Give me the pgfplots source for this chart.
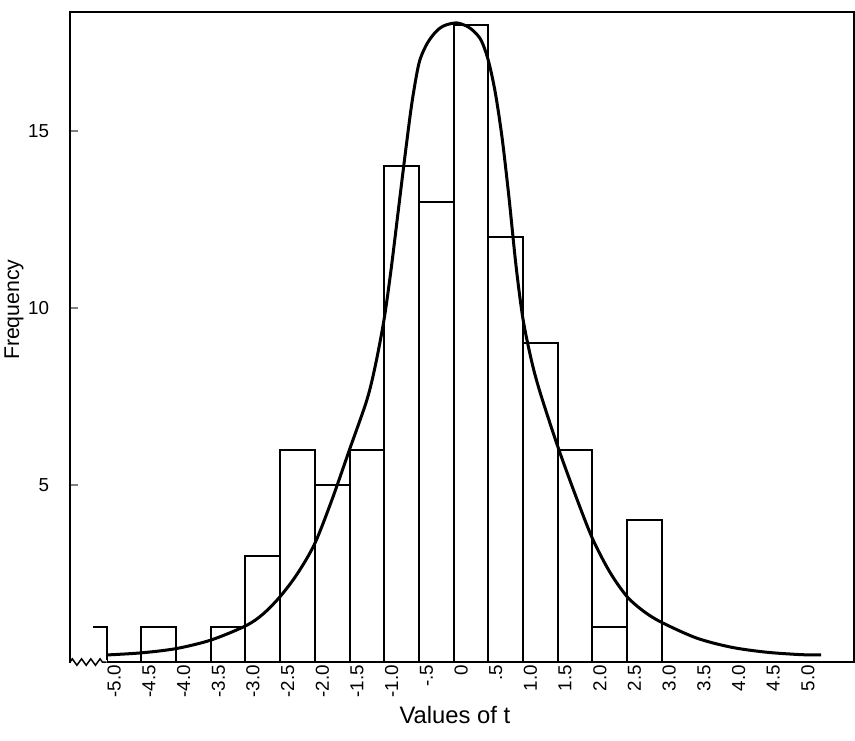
\documentclass[border=0pt]{standalone}
\usepackage{fontspec}
\setmainfont{Liberation Sans}
\usepackage{pgfplots}
\pgfplotsset{compat=1.18}
\usetikzlibrary{decorations.pathmorphing}

\begin{document}
\begin{tikzpicture}
\begin{axis}[
    at={(0,0)}, anchor=south west,
    scale only axis,
    width=11.0cm, height=9.123cm,
    xmin=-5.53, xmax=5.77,
    ymin=0, ymax=18.36,
    axis line style={line width=0.8pt},
    xtick={-5,-4.5,...,5},
    xticklabels={-5.0,-4.5,-4.0,-3.5,-3.0,-2.5,-2.0,-1.5,-1.0,-.5,0,.5,1.0,1.5,2.0,2.5,3.0,3.5,4.0,4.5,5.0},
    x tick label style={rotate=90, anchor=east, font=\fontsize{7.5}{8}\selectfont, inner sep=1pt, yshift=-3pt},
    ytick={5,10,15},
    ytick pos=left,
    y tick label style={font=\fontsize{7.5}{8}\selectfont, xshift=-0.17cm},
    /pgf/number format/assume math mode=true,
    xtick style={draw=none},
    ytick style={line width=0.6pt},
    major tick length=0.11cm,
    tick align=inside,
    every axis x label/.style={at={(axis description cs:0.491,-0.0815)}, anchor=center, font=\fontsize{9.5}{10}\selectfont},
    every axis y label/.style={at={(axis description cs:-0.0715,0.542)}, rotate=90, anchor=center, font=\fontsize{8.5}{10}\selectfont},
    xlabel={Values of t},
    ylabel={Frequency},
    clip=false,
]

% histogram, bins of width 0.5 (centres)
\addplot[ybar, bar width=0.5, bar shift=0pt, draw=black, fill=none, line width=0.8pt] coordinates {
    (-4.75,0) (-4.25,1) (-3.75,0) (-3.25,1) (-2.75,3) (-2.25,6) (-1.75,5) (-1.25,6)
    (-0.75,14) (-0.25,13) (0.25,18) (0.75,12) (1.25,9) (1.75,6) (2.25,1) (2.75,4)
};

% open class below -5.0
\addplot[draw=black, line width=0.8pt] coordinates {(-5.2,1) (-5.0,1) (-5.0,0)};

% fitted curve
\addplot[smooth, draw=black, line width=1.2pt] coordinates {
    (-5.0,0.2) (-4.5,0.26) (-4.0,0.38) (-3.5,0.62) (-3.0,1.02) (-2.75,1.35)
    (-2.5,1.85) (-2.25,2.5) (-2.0,3.35) (-1.75,4.6) (-1.5,6.0) (-1.25,7.4)
    (-1.125,8.4) (-1.0,9.7) (-0.9,11.1) (-0.8,12.7) (-0.7,14.3) (-0.6,15.8)
    (-0.5,16.9) (-0.4,17.4) (-0.3,17.7) (-0.2,17.9) (-0.1,18.0) (0.05,18.05)
    (0.2,17.95) (0.3,17.8) (0.4,17.55) (0.5,17.0) (0.6,16.1) (0.7,14.8)
    (0.8,13.1) (0.9,11.2) (1.0,9.7) (1.125,8.5) (1.25,7.6) (1.5,6.1)
    (1.75,4.75) (2.0,3.5) (2.25,2.55) (2.5,1.85) (2.75,1.42) (3.0,1.12)
    (3.5,0.68) (4.0,0.42) (4.5,0.28) (5.0,0.21) (5.3,0.2)
};

% broken axis mark
\draw[white, line width=2pt] (axis cs:-5.51,0) -- (axis cs:-5.0,0);
\draw[decorate, decoration={zigzag, segment length=1.3mm, amplitude=0.45mm}, line width=0.6pt]
    (axis cs:-5.53,0) -- (axis cs:-5.0,0);
\end{axis}
\pgfresetboundingbox
\path (-0.982,-1.095) rectangle (11.017,9.291);
\end{tikzpicture}
\end{document}
